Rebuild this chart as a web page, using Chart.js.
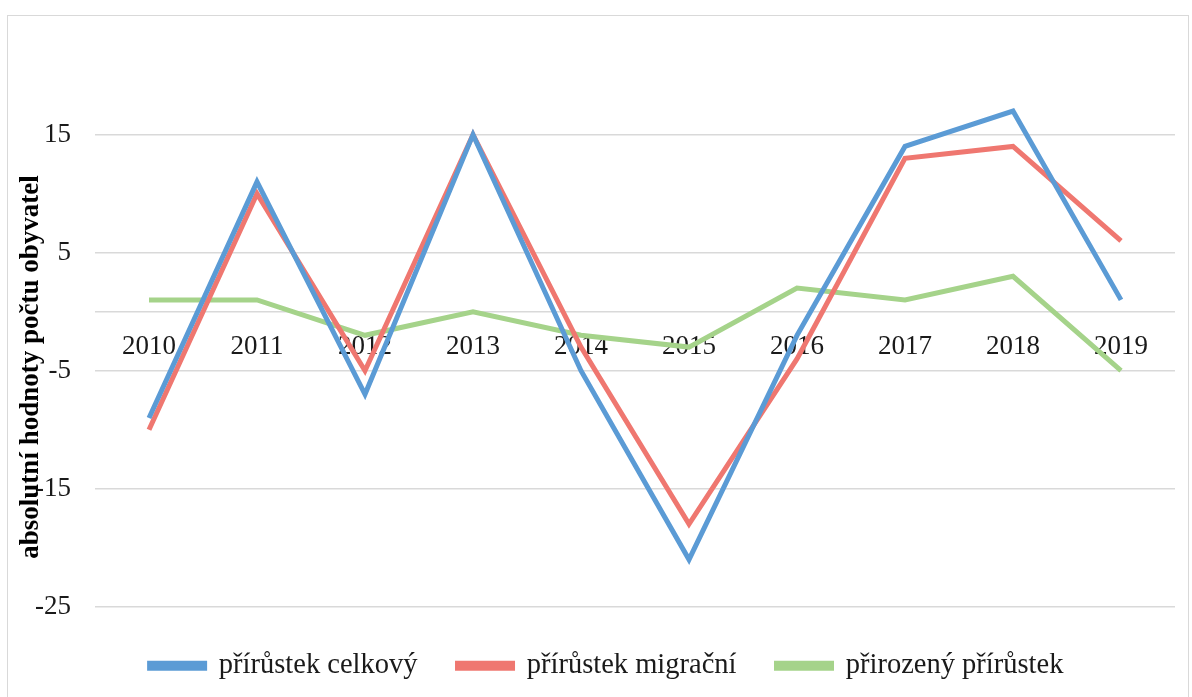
<!DOCTYPE html>
<html>
<head>
<meta charset="utf-8">
<script src="https://cdn.jsdelivr.net/npm/chart.js@4/dist/chart.umd.min.js"></script>
<style>
  body { margin: 0; background: #fff; }
  #wrap { position: relative; width: 1192px; height: 697px; overflow: hidden; }
  #frame { position: absolute; left: 7px; top: 15px; width: 1180px; height: 700px; border: 1px solid #d9d9d9; }
  canvas { position: absolute; left: 0; top: 0; }
</style>
</head>
<body>
<div id="wrap">
  <div id="frame"></div>
  <canvas id="chart" width="1192" height="697"></canvas>
</div>
<script>
// years on the category axis
var years = ['2010', '2011', '2012', '2013', '2014', '2015', '2016', '2017', '2018', '2019'];

// values
var prirustekCelkovy = [-9, 11, -7, 15, -5, -21, -2, 14, 17, 1];
var prirustekMigracni = [-10, 10, -5, 15, -3, -18, -4, 13, 14, 6];
var prirozenyPrirustek = [1, 1, -2, 0, -2, -3, 2, 1, 3, -5];

// gridlines of the value axis
var yTicks = [-25, -15, -5, 0, 5, 15];

var yTitle = 'absolutní hodnoty počtu obyvatel';

var serif = "'Liberation Serif', 'DejaVu Serif', serif";

// the axis title sits a bit lower than the middle of the plot, so draw it here
var yTitlePlugin = {
    id: 'yTitle',
    afterDraw: function (chart) {
        var c = chart.ctx;
        c.save();
        c.translate(31, 367);
        c.rotate(-Math.PI / 2);
        c.font = 'bold 27px ' + serif;
        c.fillStyle = '#000';
        c.textAlign = 'center';
        c.textBaseline = 'middle';
        c.fillText(yTitle, 0, 0);
        c.restore();
    }
};

// legend is centred on the plot a little right of the canvas middle
var legendShift = {
    id: 'legendShift',
    afterLayout: function (chart) {
        chart.legend.left += 14;
        chart.legend.right += 14;
    }
};

var ctx = document.getElementById('chart');

new Chart(ctx, {
    type: 'line',
    data: {
        labels: years,
        datasets: [
            {
                label: 'přírůstek celkový',
                data: prirustekCelkovy,
                borderColor: '#5b9bd5',
                backgroundColor: '#5b9bd5',
                borderWidth: 5,
                pointRadius: 0,
                tension: 0
            },
            {
                label: 'přírůstek migrační',
                data: prirustekMigracni,
                borderColor: '#ef7770',
                backgroundColor: '#ef7770',
                borderWidth: 5,
                pointRadius: 0,
                tension: 0
            },
            {
                label: 'přirozený přírůstek',
                data: prirozenyPrirustek,
                borderColor: '#a5d38a',
                backgroundColor: '#a5d38a',
                borderWidth: 5,
                pointRadius: 0,
                tension: 0
            }
        ]
    },
    options: {
        responsive: false,
        animation: false,
        layout: {
            padding: { left: 10, right: 17, top: 17, bottom: 7 }
        },
        scales: {
            x: {
                position: { y: 0 },
                offset: true,
                grid: { display: false, drawTicks: false },
                border: { display: false },
                ticks: {
                    color: '#1a1a1a',
                    padding: 19,
                    maxRotation: 0,
                    font: { family: serif, size: 27 }
                },
                // the axis sits inside the plot, so it takes no room
                afterFit: function (scale) { scale.height = 0; }
            },
            y: {
                min: -25.4,
                max: 23,
                afterBuildTicks: function (scale) {
                    scale.ticks = yTicks.map(function (v) { return { value: v }; });
                },
                afterFit: function (scale) { scale.width = 85; },
                grid: {
                    color: '#d9d9d9',
                    lineWidth: 1.5,
                    drawTicks: false
                },
                border: { display: false },
                ticks: {
                    color: '#1a1a1a',
                    padding: 24,
                    font: { family: serif, size: 27 },
                    callback: function (value) {
                        return value === 0 ? '' : value;
                    }
                }
            }
        },
        plugins: {
            legend: {
                position: 'bottom',
                labels: {
                    color: '#1a1a1a',
                    boxWidth: 55,
                    boxHeight: 5,
                    padding: 40,
                    font: { family: serif, size: 28.5 }
                }
            },
            tooltip: { enabled: false }
        }
    },
    plugins: [yTitlePlugin, legendShift]
});
</script>
</body>
</html>
